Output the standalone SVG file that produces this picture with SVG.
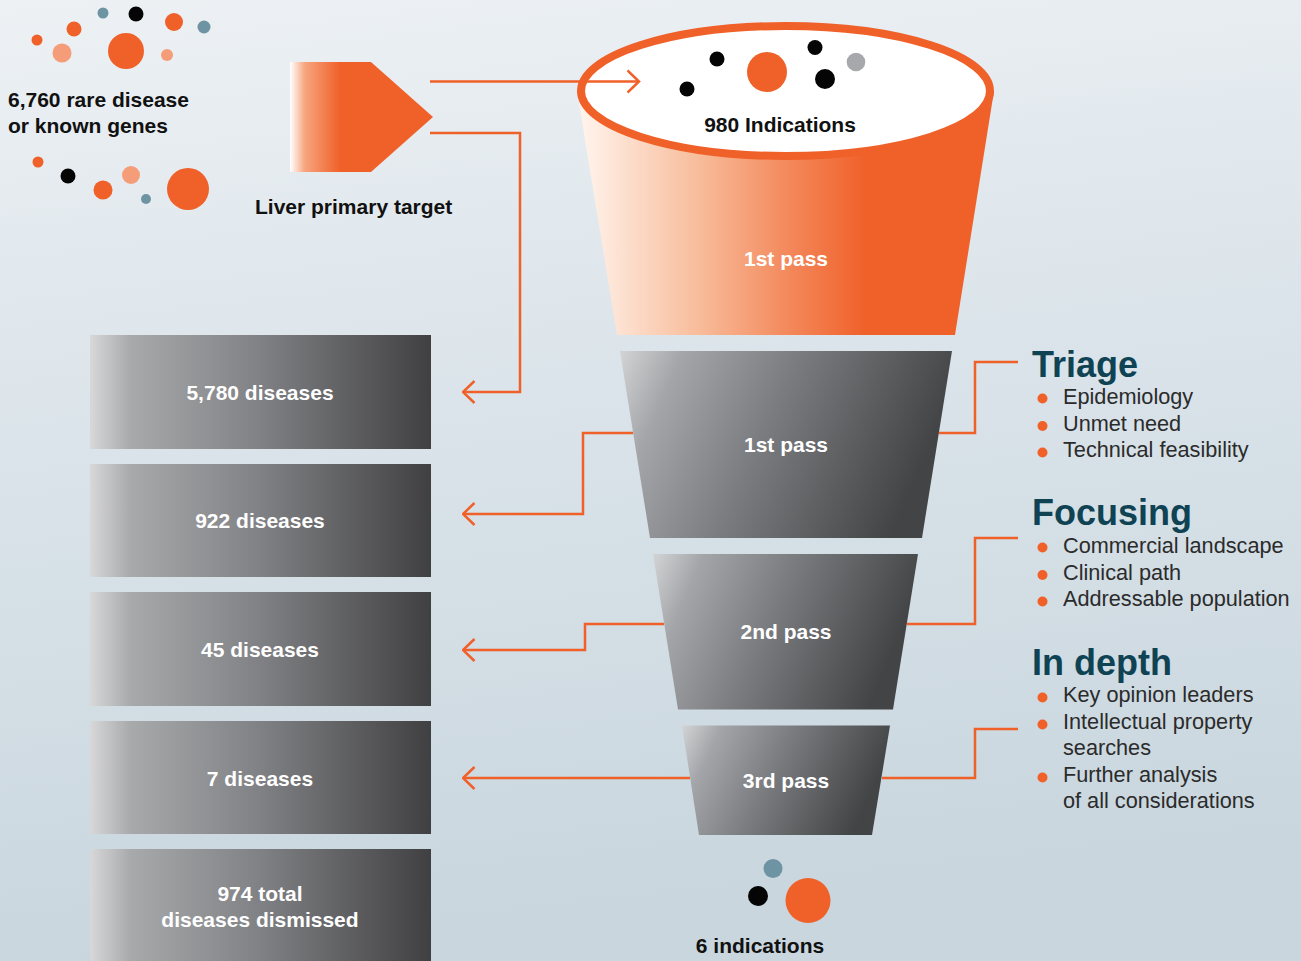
<svg xmlns="http://www.w3.org/2000/svg" width="1301" height="961" viewBox="0 0 1301 961">
  <defs>
    <linearGradient id="bg" x1="0" y1="0" x2="0.15" y2="1">
      <stop offset="0" stop-color="#edf1f4"/>
      <stop offset="0.45" stop-color="#dbe4ea"/>
      <stop offset="1" stop-color="#c9d6de"/>
    </linearGradient>
    <linearGradient id="tagFill" gradientUnits="userSpaceOnUse" x1="290" y1="0" x2="340" y2="0">
      <stop offset="0" stop-color="#ffffff"/>
      <stop offset="0.3" stop-color="#f7a47d"/>
      <stop offset="1" stop-color="#f0612a"/>
    </linearGradient>
    <linearGradient id="cupFill" gradientUnits="userSpaceOnUse" x1="585" y1="0" x2="865" y2="0">
      <stop offset="0" stop-color="#fff2ea"/>
      <stop offset="0.4" stop-color="#f8bd9c"/>
      <stop offset="0.75" stop-color="#f38557"/>
      <stop offset="1" stop-color="#f0612a"/>
    </linearGradient>
    <linearGradient id="boxFill" x1="0" y1="0" x2="1" y2="0">
      <stop offset="0" stop-color="#d8d8d9"/>
      <stop offset="0.12" stop-color="#a8a9ab"/>
      <stop offset="0.5" stop-color="#808184"/>
      <stop offset="1" stop-color="#404042"/>
    </linearGradient>
    <linearGradient id="stageFill" x1="0" y1="0" x2="1" y2="0.25">
      <stop offset="0" stop-color="#d3d4d6"/>
      <stop offset="0.18" stop-color="#a4a5a8"/>
      <stop offset="0.5" stop-color="#7c7d80"/>
      <stop offset="1" stop-color="#434446"/>
    </linearGradient>
    <marker id="chev" markerUnits="userSpaceOnUse" viewBox="0 0 14 26" refX="12.5" refY="13" markerWidth="14" markerHeight="26" orient="auto">
      <path d="M1,2 L12.5,13 L1,24" fill="none" stroke="#f0612a" stroke-width="2.5"/>
    </marker>
    <style>
      .lbl { font-family: "Liberation Sans", Arial, sans-serif; font-weight: bold; font-size: 21px; fill: #111111; }
      .wlbl { font-family: "Liberation Sans", Arial, sans-serif; font-weight: bold; font-size: 21px; fill: #ffffff; text-anchor: middle; }
      .head { font-family: "Liberation Sans", Arial, sans-serif; font-weight: bold; font-size: 36px; fill: #0f4354; }
      .item { font-family: "Liberation Sans", Arial, sans-serif; font-size: 21.7px; fill: #2b2b2b; }
      .org { fill: #f0612a; }
      .lorg { fill: #f59c78; }
      .blk { fill: #050505; }
      .slate { fill: #6e94a3; }
      .wire { fill: none; stroke: #f0612a; stroke-width: 2.5; }
      .box { fill: url(#boxFill); }
      .stage { fill: url(#stageFill); }
    </style>
  </defs>

  <rect x="0" y="0" width="1301" height="961" fill="url(#bg)"/>

  <!-- source gene pool -->
  <g id="gene-pool">
    <circle class="org" cx="37" cy="40" r="5.5"/>
    <circle class="org" cx="74" cy="29" r="7.5"/>
    <circle class="slate" cx="103" cy="13" r="5.5"/>
    <circle class="blk" cx="136" cy="14" r="7.5"/>
    <circle class="org" cx="174" cy="22" r="9"/>
    <circle class="slate" cx="204" cy="27" r="6.5"/>
    <circle class="lorg" cx="62" cy="53" r="9.5"/>
    <circle class="org" cx="126" cy="51" r="18"/>
    <circle class="lorg" cx="167" cy="55" r="6"/>
    <text class="lbl" x="8" y="107">6,760 rare disease</text>
    <text class="lbl" x="8" y="133">or known genes</text>
    <circle class="org" cx="38" cy="162" r="5.5"/>
    <circle class="blk" cx="68" cy="176" r="7.5"/>
    <circle class="lorg" cx="131" cy="175" r="9"/>
    <circle class="org" cx="103" cy="190" r="9.5"/>
    <circle class="slate" cx="146" cy="199" r="5"/>
    <circle class="org" cx="188" cy="189" r="21"/>
  </g>

  <!-- liver primary target tag -->
  <g id="liver-target">
    <path d="M290,62 L371,62 L433,117 L371,172 L290,172 Z" fill="url(#tagFill)"/>
    <text class="lbl" x="255" y="214">Liver primary target</text>
  </g>

  <!-- funnel mouth -->
  <g id="funnel-top">
    <path d="M577,91 L617,335 L955,335 L994,91 Z" fill="url(#cupFill)"/>
    <ellipse cx="785.5" cy="91" rx="204.5" ry="65" fill="#ffffff" stroke="#f0612a" stroke-width="8"/>
    <circle class="blk" cx="687" cy="89" r="7.5"/>
    <circle class="blk" cx="717" cy="59" r="7.5"/>
    <circle class="org" cx="767" cy="72" r="20"/>
    <circle class="blk" cx="815" cy="47.5" r="7.5"/>
    <circle class="blk" cx="825" cy="79" r="10"/>
    <circle cx="856" cy="62" r="9.3" fill="#a7a8ab"/>
    <text class="lbl" x="780" y="132" text-anchor="middle">980 Indications</text>
    <text class="wlbl" x="786" y="266">1st pass</text>
  </g>

  <!-- funnel stages -->
  <g id="stage-1">
    <path class="stage" d="M620,351 L952,351 L922,538 L650,538 Z"/>
    <text class="wlbl" x="786" y="452">1st pass</text>
  </g>
  <g id="stage-2">
    <path class="stage" d="M653,554 L918,554 L893,709.5 L678,709.5 Z"/>
    <text class="wlbl" x="786" y="639">2nd pass</text>
  </g>
  <g id="stage-3">
    <path class="stage" d="M682,725.5 L890,725.5 L872,835 L699,835 Z"/>
    <text class="wlbl" x="786" y="788">3rd pass</text>
  </g>

  <!-- outcome -->
  <g id="outcome">
    <circle class="slate" cx="773" cy="868.5" r="9.5"/>
    <circle class="blk" cx="758" cy="896" r="10"/>
    <circle class="org" cx="808" cy="900.5" r="22.5"/>
    <text class="lbl" x="760" y="953" text-anchor="middle">6 indications</text>
  </g>

  <!-- dismissed counts -->
  <g id="dismissed-1">
    <rect class="box" x="90" y="335" width="341" height="114"/>
    <text class="wlbl" x="260" y="400">5,780 diseases</text>
  </g>
  <g id="dismissed-2">
    <rect class="box" x="90" y="464" width="341" height="113"/>
    <text class="wlbl" x="260" y="528">922 diseases</text>
  </g>
  <g id="dismissed-3">
    <rect class="box" x="90" y="592" width="341" height="114"/>
    <text class="wlbl" x="260" y="657">45 diseases</text>
  </g>
  <g id="dismissed-4">
    <rect class="box" x="90" y="721" width="341" height="113"/>
    <text class="wlbl" x="260" y="786">7 diseases</text>
  </g>
  <g id="dismissed-total">
    <rect class="box" x="90" y="849" width="341" height="112"/>
    <text class="wlbl" x="260" y="901">974 total</text>
    <text class="wlbl" x="260" y="927">diseases dismissed</text>
  </g>

  <!-- criteria -->
  <g id="triage">
    <text class="head" x="1032" y="377">Triage</text>
    <circle class="org" cx="1042.5" cy="398.5" r="5"/>
    <circle class="org" cx="1042.5" cy="426" r="5"/>
    <circle class="org" cx="1042.5" cy="452.5" r="5"/>
    <text class="item" x="1063" y="404">Epidemiology</text>
    <text class="item" x="1063" y="431">Unmet need</text>
    <text class="item" x="1063" y="457">Technical feasibility</text>
  </g>
  <g id="focusing">
    <text class="head" x="1032" y="525">Focusing</text>
    <circle class="org" cx="1042.5" cy="547.5" r="5"/>
    <circle class="org" cx="1042.5" cy="575" r="5"/>
    <circle class="org" cx="1042.5" cy="601.5" r="5"/>
    <text class="item" x="1063" y="553">Commercial landscape</text>
    <text class="item" x="1063" y="580">Clinical path</text>
    <text class="item" x="1063" y="606">Addressable population</text>
  </g>
  <g id="in-depth">
    <text class="head" x="1032" y="675">In depth</text>
    <circle class="org" cx="1042.5" cy="697.5" r="5"/>
    <circle class="org" cx="1042.5" cy="724.5" r="5"/>
    <circle class="org" cx="1042.5" cy="777.5" r="5"/>
    <text class="item" x="1063" y="702">Key opinion leaders</text>
    <text class="item" x="1063" y="729">Intellectual property</text>
    <text class="item" x="1063" y="755">searches</text>
    <text class="item" x="1063" y="782">Further analysis</text>
    <text class="item" x="1063" y="808">of all considerations</text>
  </g>

  <!-- connectors -->
  <g id="connectors">
    <path class="wire" d="M430,81.5 H639" marker-end="url(#chev)"/>
    <path class="wire" d="M430,133 H520 V392 H463" marker-end="url(#chev)"/>
    <path class="wire" d="M633,433 H583 V514 H463" marker-end="url(#chev)"/>
    <path class="wire" d="M664,624 H585 V650 H463" marker-end="url(#chev)"/>
    <path class="wire" d="M690,778 H463" marker-end="url(#chev)"/>
    <path class="wire" d="M939,433 H975 V362 H1018"/>
    <path class="wire" d="M907,624 H975 V538 H1018"/>
    <path class="wire" d="M882,778 H975 V729 H1018"/>
  </g>
</svg>
